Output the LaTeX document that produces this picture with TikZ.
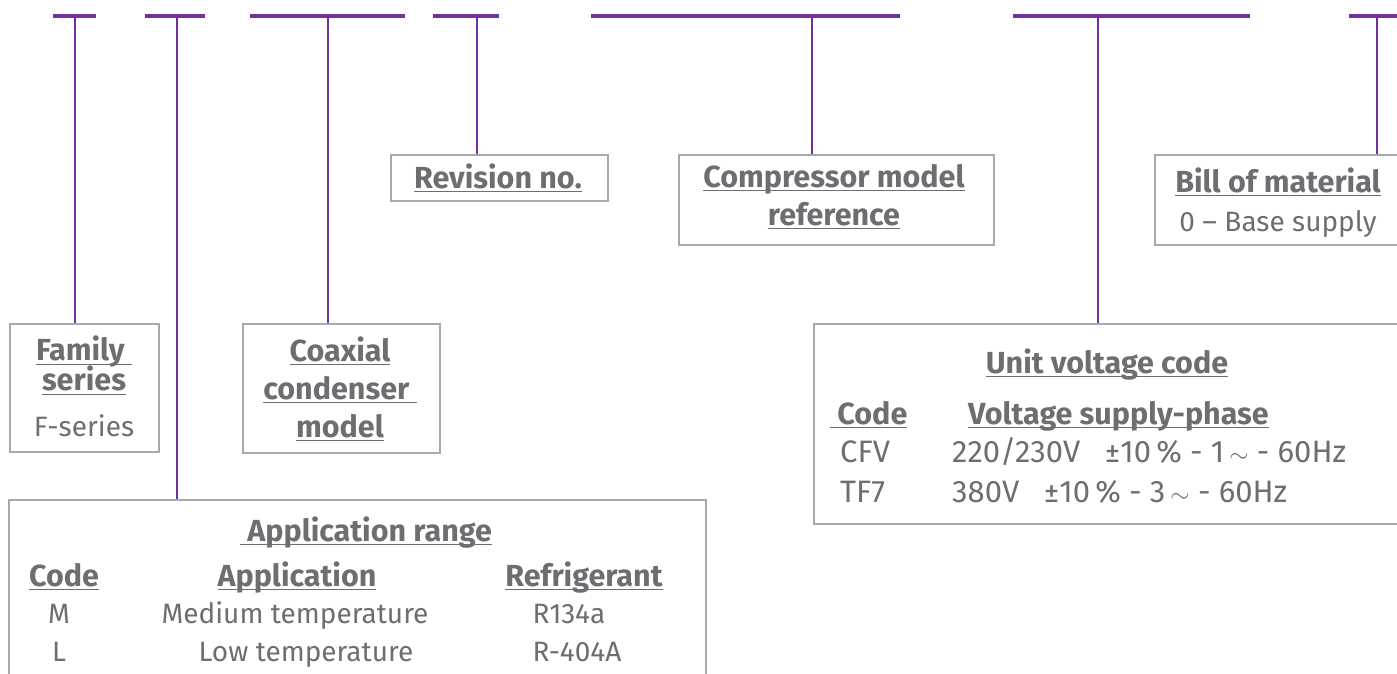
\documentclass[tikz,border=0pt]{standalone}
\usepackage{fontspec}
\setmainfont{Fira Sans}
\usetikzlibrary{positioning}
\definecolor{codepurple}{HTML}{7030A0}
\definecolor{codegray}{HTML}{6D6E71}
\definecolor{framegray}{HTML}{A7A9AC}
\newsavebox\ulbox
\newcommand{\ul}[1]{\sbox\ulbox{#1}\rlap{\rule[-4pt]{\wd\ulbox}{1.3pt}}\usebox\ulbox}
\tikzset{
  codebar/.style={draw=codepurple,line width=3.5pt},
  lead/.style={draw=codepurple,line width=2.5pt},
  codebox/.style={draw=framegray,line width=1.5pt,anchor=north west,inner sep=0pt},
  lbl/.style={text=codegray,inner sep=0pt,anchor=base,font=\fontsize{28}{38}\selectfont},
  hd/.style={lbl,font=\fontsize{30.5}{38}\selectfont\bfseries},
  volrow/.style={lbl,anchor=base west,font=\fontsize{31}{38}\selectfont},
}
\begin{document}
\begin{tikzpicture}[x=1pt,y=-1pt]
\useasboundingbox (0,0) rectangle (1397,673);
\clip (0,0) rectangle (1397,673);

% code bars on top
\foreach \n/\a/\b/\t in {fam/53/96/75, app/145/205/177, coax/250/405/328,
  rev/433/499/477, comp/591/900/812, volt/1013/1250/1098, bom/1349/1410/1377}{
  \draw[codebar] (\a,16) -- (\b,16);
  \coordinate (t-\n) at (\t,16);
}

% boxes
\node[codebox,minimum width=149,minimum height=128] (fam) at (9,323) {};
\node[codebox,minimum width=197,minimum height=129] (coax) at (242,323) {};
\node[codebox,minimum width=217,minimum height=46] (rev) at (390,154) {};
\node[codebox,minimum width=315,minimum height=90] (comp) at (678,154) {};
\node[codebox,minimum width=260,minimum height=90] (bom) at (1154,154) {};
\node[codebox,minimum width=697,minimum height=220] (app) at (8,499) {};
\node[codebox,minimum width=610,minimum height=200] (volt) at (813,323) {};

% leads
\foreach \n in {fam,app,coax,rev,comp,volt,bom}
  \draw[lead] (t-\n) -- (t-\n |- \n.north);

% family series
\node[hd,align=center,anchor=north] (famA) at (84,336)
  {\ul{Family\ }\\[-8pt]\ul{series}};
\node[lbl] (famC) at (84,436) {F-series};

% coaxial condenser
\node[hd] (coaxA) at (340,361) {\ul{Coaxial}};
\node[hd] (coaxB) at (340,399) {\ul{condenser\ }};
\node[hd] (coaxC) at (340,437) {\ul{model}};

% revision
\node[hd] (revA) at (498,188) {\ul{Revision no.}};

% compressor
\node[hd] (compA) at (834,187) {\ul{Compressor model}};
\node[hd] (compB) at (834,225) {\ul{reference}};

% bill of material
\node[hd] (bomA) at (1278,192) {\ul{Bill of material}};
\node[lbl] (bomB) at (1278,231) {0 -- Base supply};

% application range
\node[hd] (appT) at (366,541) {\ul{\ Application range}};
\node[hd] (appC) at (64,586) {\ul{Code}};
\node[hd] (appA) at (297,586) {\ul{Application}};
\node[hd] (appR) at (584,586) {\ul{Refrigerant}};
\node[lbl] at (59,623) {M};
\node[lbl] at (295,623) {Medium temperature};
\node[lbl] at (569,623) {R134a};
\node[lbl] at (59,661) {L};
\node[lbl] at (306,661) {Low temperature};
\node[lbl] at (577,661) {R-404A};

% unit voltage code
\node[hd] (voltT) at (1107,373) {\ul{Unit voltage code}};
\node[hd,anchor=base west] (voltC) at (830,424) {\ul{\ Code}};
\node[hd,anchor=base west] (voltV) at (968,424) {\ul{Voltage supply-phase}};
\node[volrow] at (840,462) {CFV};
\node[volrow] at (952,462) {220/230V\ \ \ ±10\,\% - 1\,$\sim$ - 60Hz};
\node[volrow] at (840,502) {TF7};
\node[volrow] at (952,502) {380V\ \ \ ±10\,\% - 3\,$\sim$ - 60Hz};
\end{tikzpicture}
\end{document}
